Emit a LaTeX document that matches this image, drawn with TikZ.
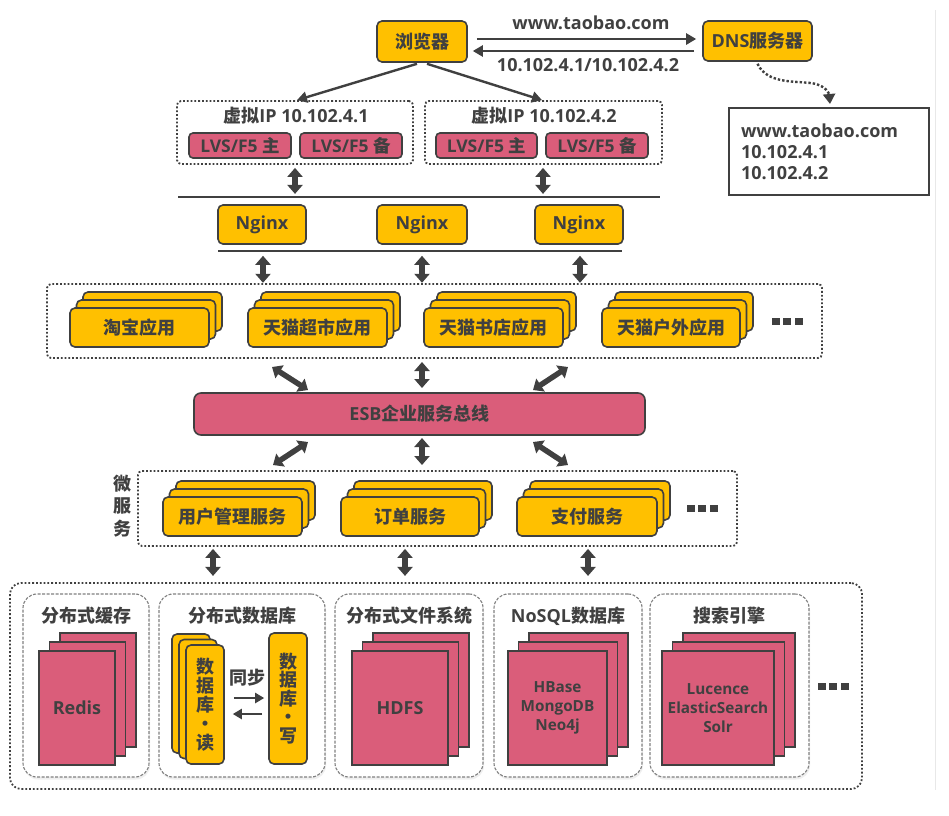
\documentclass[tikz,border=0pt]{standalone}
\usepackage{fontspec}
\setmainfont{Open Sans}
\newfontfamily\cjk{Noto Sans CJK SC}
\newcommand\zh[1]{{\cjk\bfseries #1}}
\usetikzlibrary{arrows.meta,shadows,calc}
\definecolor{yel}{RGB}{255,192,0}
\definecolor{pnk}{RGB}{218,93,122}
\definecolor{dk}{RGB}{64,64,64}
\newcommand\ystk[6]{%
  \node[ybox, minimum width=#4pt, minimum height=#5pt] (#1c) at (#2+13,#3-16) {};
  \node[ybox, minimum width=#4pt, minimum height=#5pt] (#1b) at (#2+6.5,#3-8) {};
  \node[ybox, minimum width=#4pt, minimum height=#5pt] (#1) at (#2,#3) {#6};
}
\newcommand\pstk[7]{%
  \node[sqbox, minimum width=#4pt, minimum height=#5pt] (#1c) at (#2+21,#3-18) {};
  \node[sqbox, minimum width=#4pt, minimum height=#5pt] (#1b) at (#2+10.5,#3-9) {};
  \node[sqbox, minimum width=#4pt, minimum height=#5pt, align=center, #7] (#1) at (#2,#3) {#6};
}
\begin{document}
\begin{tikzpicture}[x=1pt,y=-1pt,
  every node/.style={text=dk, font=\fontsize{18}{21}\selectfont\bfseries, inner sep=0pt},
  ybox/.style={draw=dk, fill=yel, line width=1.6pt, rounded corners=5pt},
  pbox/.style={draw=dk, fill=pnk, line width=1.6pt, rounded corners=4pt},
  sqbox/.style={draw=dk, fill=pnk, line width=1.6pt},
  dotbox/.style={draw=dk, line width=1.8pt, dotted, rounded corners=4pt},
  grp/.style={draw=gray, line width=1.1pt, dash pattern=on 3pt off 1.5pt, rounded corners=14pt, fill=white,
     drop shadow={opacity=0.12, shadow xshift=1pt, shadow yshift=-2.5pt}},
  ln/.style={draw=dk, line width=2.4pt},
  tip/.style={-{Triangle[width=11pt,length=10pt]}},
  dbl/.style={draw=dk, line width=5.5pt, {Triangle[width=15pt,length=9pt]}-{Triangle[width=15pt,length=9pt]}},
  lvs/.style={pbox, minimum width=102pt, minimum height=25pt, font=\fontsize{17.5}{19}\selectfont\bfseries},
  small/.style={font=\fontsize{15.3}{19}\selectfont\bfseries}
]
\fill[white] (0,0) rectangle (949,815);
\useasboundingbox (0,0) rectangle (949,815);
\draw[gray!18, line width=1pt] (935,10) -- (935,790);

% ---------- top: browser & DNS
\node[ybox, minimum width=90pt, minimum height=41pt] (browser) at (422,41.5) {\zh{浏览器}};
\node[ybox, minimum width=109pt, minimum height=40pt] (dns) at (757.5,41) {DNS\zh{服务器}};
\draw[ln, tip] ($(browser.east)+(9,-2.5)$) -- ($(dns.west)+(-6,-2)$);
\draw[ln, tip] ($(dns.west)+(-8,10)$) -- ($(browser.east)+(5,9.5)$);
\node (url) at (591,23) {www.taobao.com};
\node (ips) at (588,65) {10.102.4.1/10.102.4.2};

\node[draw=dk, line width=2pt, minimum width=200pt, minimum height=87pt, align=left, text width=176pt,
      font=\fontsize{18}{21}\selectfont\bfseries] (list) at (829,151.5) {www.taobao.com\\10.102.4.1\\10.102.4.2};
\draw[draw=dk, line width=2.4pt, dotted, -{Triangle[width=12pt,length=10pt]}]
  ($(dns.south)+(0,2)$) .. controls (768,86) and (800,80) .. (816,84)
  .. controls (826,87) and (829,93) .. ($(list.north)+(1,-3)$);

% ---------- virtual IP groups
\node[dotbox, minimum width=236pt, minimum height=63pt] (vip1) at (295,132.5) {};
\node[dotbox, minimum width=237pt, minimum height=63pt] (vip2) at (543.5,132.5) {};
\node (vip1t) at (296,116) {\zh{虚拟}IP 10.102.4.1};
\node (vip2t) at (544,116) {\zh{虚拟}IP 10.102.4.2};
\node[lvs] (lvs1) at (240,145.5) {LVS/F5 \zh{主}};
\node[lvs] (lvs2) at (351,145.5) {LVS/F5 \zh{备}};
\node[lvs, minimum width=101pt] (lvs3) at (486.5,145.5) {LVS/F5 \zh{主}};
\node[lvs] (lvs4) at (597,145.5) {LVS/F5 \zh{备}};
\draw[ln, tip] ($(browser.south)+(-5,1)$) -- ($(vip1.north)+(2,0)$);
\draw[ln, tip] ($(browser.south)+(5,1)$) -- ($(vip2.north)+(-1.5,0)$);

\draw[dbl] ($(vip1.south)+(0,3)$) -- ($(vip1.south)+(0,29)$);
\draw[dbl] ($(vip2.south)+(-0.5,3)$) -- ($(vip2.south)+(-0.5,29)$);
\coordinate (bar1l) at (178,197);
\coordinate (bar1r) at (660,197);
\draw[ln] (bar1l) -- (bar1r);

% ---------- Nginx
\node[ybox, minimum width=88pt, minimum height=39pt] (ng1) at (262,224.5) {Nginx};
\node[ybox, minimum width=90pt, minimum height=39pt] (ng2) at (422,224.5) {Nginx};
\node[ybox, minimum width=88pt, minimum height=39pt] (ng3) at (579,224.5) {Nginx};
\coordinate (bar2l) at (218,251);
\coordinate (bar2r) at (622,251);
\draw[ln] (bar2l) -- (bar2r);
\draw[dbl] ($(ng1.south)+(1,11)$) -- ($(ng1.south)+(1,38)$);
\draw[dbl] ($(ng2.south)+(0,11)$) -- ($(ng2.south)+(0,38)$);
\draw[dbl] ($(ng3.south)+(1,11)$) -- ($(ng3.south)+(1,38)$);

% ---------- applications
\node[dotbox, minimum width=775pt, minimum height=74pt] (apps) at (434.5,321) {};
\ystk{app1}{139.5}{327.5}{139}{39}{\zh{淘宝应用}}
\ystk{app2}{317.5}{327.5}{139}{39}{\zh{天猫超市应用}}
\ystk{app3}{493.5}{327.5}{139}{39}{\zh{天猫书店应用}}
\ystk{app4}{671}{327.5}{138}{39}{\zh{天猫户外应用}}
\node (more1) at (787,321) {\rule{8pt}{7pt}\hspace{3.5pt}\rule{8pt}{7pt}\hspace{3.5pt}\rule{8pt}{7pt}};

% ---------- ESB
\node[pbox, rounded corners=7pt, minimum width=451pt, minimum height=42pt] (esb) at (419.5,414) {ESB\zh{企业服务总线}};
\coordinate (e1a) at (272,367); \coordinate (e1b) at (308,390);
\coordinate (e2a) at (422,362); \coordinate (e2b) at (422,388);
\coordinate (e3a) at (568,367); \coordinate (e3b) at (533,390);
\coordinate (e4a) at (308,442); \coordinate (e4b) at (273,465);
\coordinate (e5a) at (422,438); \coordinate (e5b) at (422,465);
\coordinate (e6a) at (533,442); \coordinate (e6b) at (568,465);
\draw[dbl] (e1a) -- (e1b);
\draw[dbl] (e2a) -- (e2b);
\draw[dbl] (e3a) -- (e3b);
\draw[dbl] (e4a) -- (e4b);
\draw[dbl] (e5a) -- (e5b);
\draw[dbl] (e6a) -- (e6b);

% ---------- micro services
\node[dotbox, minimum width=599pt, minimum height=75pt] (micro) at (437.5,508.5) {};
\node[align=center, font=\fontsize{18}{22.5}\selectfont] (wlabel) at (122,506) {\zh{微}\\\zh{服}\\\zh{务}};
\ystk{ms1}{232.5}{516.5}{139}{39}{\zh{用户管理服务}}
\ystk{ms2}{410}{516.5}{138}{39}{\zh{订单服务}}
\ystk{ms3}{587}{516.5}{140}{39}{\zh{支付服务}}
\node (more2) at (702,508) {\rule{8pt}{7pt}\hspace{3.5pt}\rule{8pt}{7pt}\hspace{3.5pt}\rule{8pt}{7pt}};
\draw[dbl] ($(micro.south)+(-224.5,2)$) -- ($(micro.south)+(-224.5,29)$);
\draw[dbl] ($(micro.south)+(-32.5,2)$) -- ($(micro.south)+(-32.5,29)$);
\draw[dbl] ($(micro.south)+(150.5,2)$) -- ($(micro.south)+(150.5,29)$);

% ---------- storage
\node[dotbox, rounded corners=11pt, minimum width=852pt, minimum height=206pt] (store) at (436,686) {};
\node[grp, minimum width=126pt, minimum height=183pt] (g1) at (86,685.5) {};
\node[grp, minimum width=166pt, minimum height=183pt] (g2) at (242,685.5) {};
\node[grp, minimum width=148pt, minimum height=183pt] (g3) at (409,685.5) {};
\node[grp, minimum width=148pt, minimum height=183pt] (g4) at (568,685.5) {};
\node[grp, minimum width=159pt, minimum height=183pt] (g5) at (729.5,685.5) {};
\node (g1t) at (86,616) {\zh{分布式缓存}};
\node (g2t) at (242,616) {\zh{分布式数据库}};
\node (g3t) at (409,616) {\zh{分布式文件系统}};
\node (g4t) at (568,616) {NoSQL\zh{数据库}};
\node (g5t) at (729.5,616) {\zh{搜索引擎}};

\pstk{redis}{77}{708}{76}{114}{Redis}{}
\pstk{hdfs}{400}{708}{96}{114}{HDFS}{}
\pstk{nosql}{557.5}{708}{99}{114}{HBase\\MongoDB\\Neo4j}{small}
\pstk{search}{718}{708}{112}{114}{Lucence\\ElasticSearch\\Solr}{small}

% database read / write
\node[ybox, minimum width=38pt, minimum height=119pt] (rdc) at (191,693.5) {};
\node[ybox, minimum width=38pt, minimum height=119pt] (rdb) at (198,699) {};
\node[ybox, minimum width=38pt, minimum height=119pt, align=center, font=\fontsize{18}{19}\selectfont] (rd) at (205,704.5) {\zh{数}\\\zh{据}\\\zh{库}\\\zh{·}\\\zh{读}};
\node[ybox, minimum width=38pt, minimum height=131pt, align=center, font=\fontsize{18}{18.5}\selectfont] (wr) at (288,698.5) {\zh{数}\\\zh{据}\\\zh{库}\\\zh{·}\\\zh{写}};
\node (sync) at (247,678) {\zh{同步}};
\draw[ln, -{Triangle[width=10pt,length=9pt]}] ($(rd.east)+(9,-6.5)$) -- ($(wr.west)+(-4,-0.5)$);
\draw[ln, -{Triangle[width=10pt,length=9pt]}] ($(wr.west)+(-6,15.5)$) -- ($(rd.east)+(8,9.5)$);
\node (more3) at (833,686) {\rule{8pt}{7pt}\hspace{3.5pt}\rule{8pt}{7pt}\hspace{3.5pt}\rule{8pt}{7pt}};
\end{tikzpicture}
\end{document}
